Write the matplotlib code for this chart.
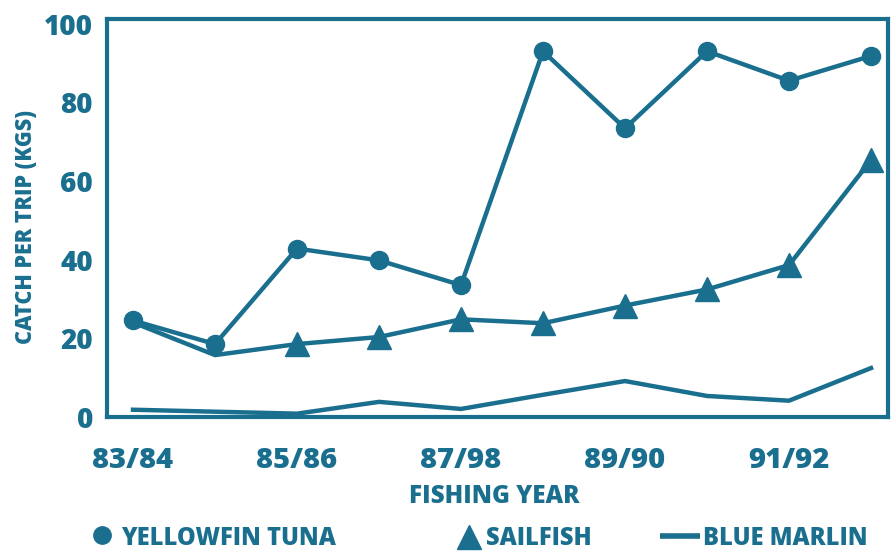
import matplotlib
matplotlib.use("Agg")
import matplotlib.pyplot as plt
from matplotlib.lines import Line2D

plt.rcParams['font.family'] = ['Open Sans', 'DejaVu Sans']

C = '#1a6f8f'
WT = 800

x_idx = list(range(10))
tick_pos = [0, 2, 4, 6, 8]
tick_labels = ['83/84', '85/86', '87/98', '89/90', '91/92']
yellowfin = [24.5, 18.5, 42.8, 39.8, 33.5, 93, 73.4, 93, 85.5, 91.8]
sailfish = [24.0, 15.7, 18.5, 20.3, 24.8, 23.8, 28.3, 32.4, 38.6, 65.3]
blue_marlin = [1.8, 1.3, 0.8, 3.8, 2.0, 5.6, 9.1, 5.3, 4.1, 12.4]
legend_labels = ['YELLOWFIN TUNA', 'SAILFISH', 'BLUE MARLIN']

W, H = 894, 552
fig = plt.figure(figsize=(W/100, H/100), dpi=100)
L, R, T, B = 107, 888, 19, 417
ax = fig.add_axes([L/W, 1-B/H, (R-L)/W, (B-T)/H])

ax.plot(x_idx, yellowfin, color=C, lw=3.2, marker='o', ms=13, zorder=3)
ax.plot(x_idx, sailfish, color=C, lw=3.2, zorder=2)
ax.plot(x_idx[2:], sailfish[2:], ls='none', marker='^', ms=17, color=C, zorder=3)
ax.plot(x_idx, blue_marlin, color=C, lw=3.2, zorder=2)

ax.set_xlim(-0.317, 9.207)
ax.set_ylim(-0.05, 101.2)
ax.set_xticks(tick_pos)
ax.set_xticklabels(tick_labels)
ax.set_yticks([0, 20, 40, 60, 80, 100])
ax.tick_params(length=0, colors=C)
ax.tick_params(axis='x', labelsize=21, pad=21)
ax.tick_params(axis='y', labelsize=20, pad=10)
for lab in ax.get_xticklabels() + ax.get_yticklabels():
    lab.set_fontweight(WT)
for sp in ax.spines.values():
    sp.set_color(C)
    sp.set_linewidth(3)

fig.text(26/W, 1-227/H, 'CATCH PER TRIP (KGS)', rotation=90, ha='center', va='center',
         color=C, fontsize=15.5, fontweight=WT)
fig.text(494/W, 1-503/H, 'FISHING YEAR', ha='center', va='baseline',
         color=C, fontsize=17.5, fontweight=WT)

# legend, drawn by hand in figure pixels
def fx(px):
    return px / W

def fy(py):
    return 1 - py / H

fig.add_artist(Line2D([fx(102)], [fy(535)], marker='o', ms=12.5, color=C, ls='none',
                      transform=fig.transFigure))
fig.add_artist(Line2D([fx(469)], [fy(537)], marker='^', ms=17, color=C, ls='none',
                      transform=fig.transFigure))
fig.add_artist(Line2D([fx(660), fx(700)], [fy(536), fy(536)], lw=4, color=C,
                      solid_capstyle='butt', transform=fig.transFigure))
for xs, lab in zip([121, 486, 703], legend_labels):
    fig.text(fx(xs), fy(545), lab, ha='left', va='baseline', color=C,
             fontsize=17, fontweight=WT)

fig.savefig('out.png', dpi=100)
